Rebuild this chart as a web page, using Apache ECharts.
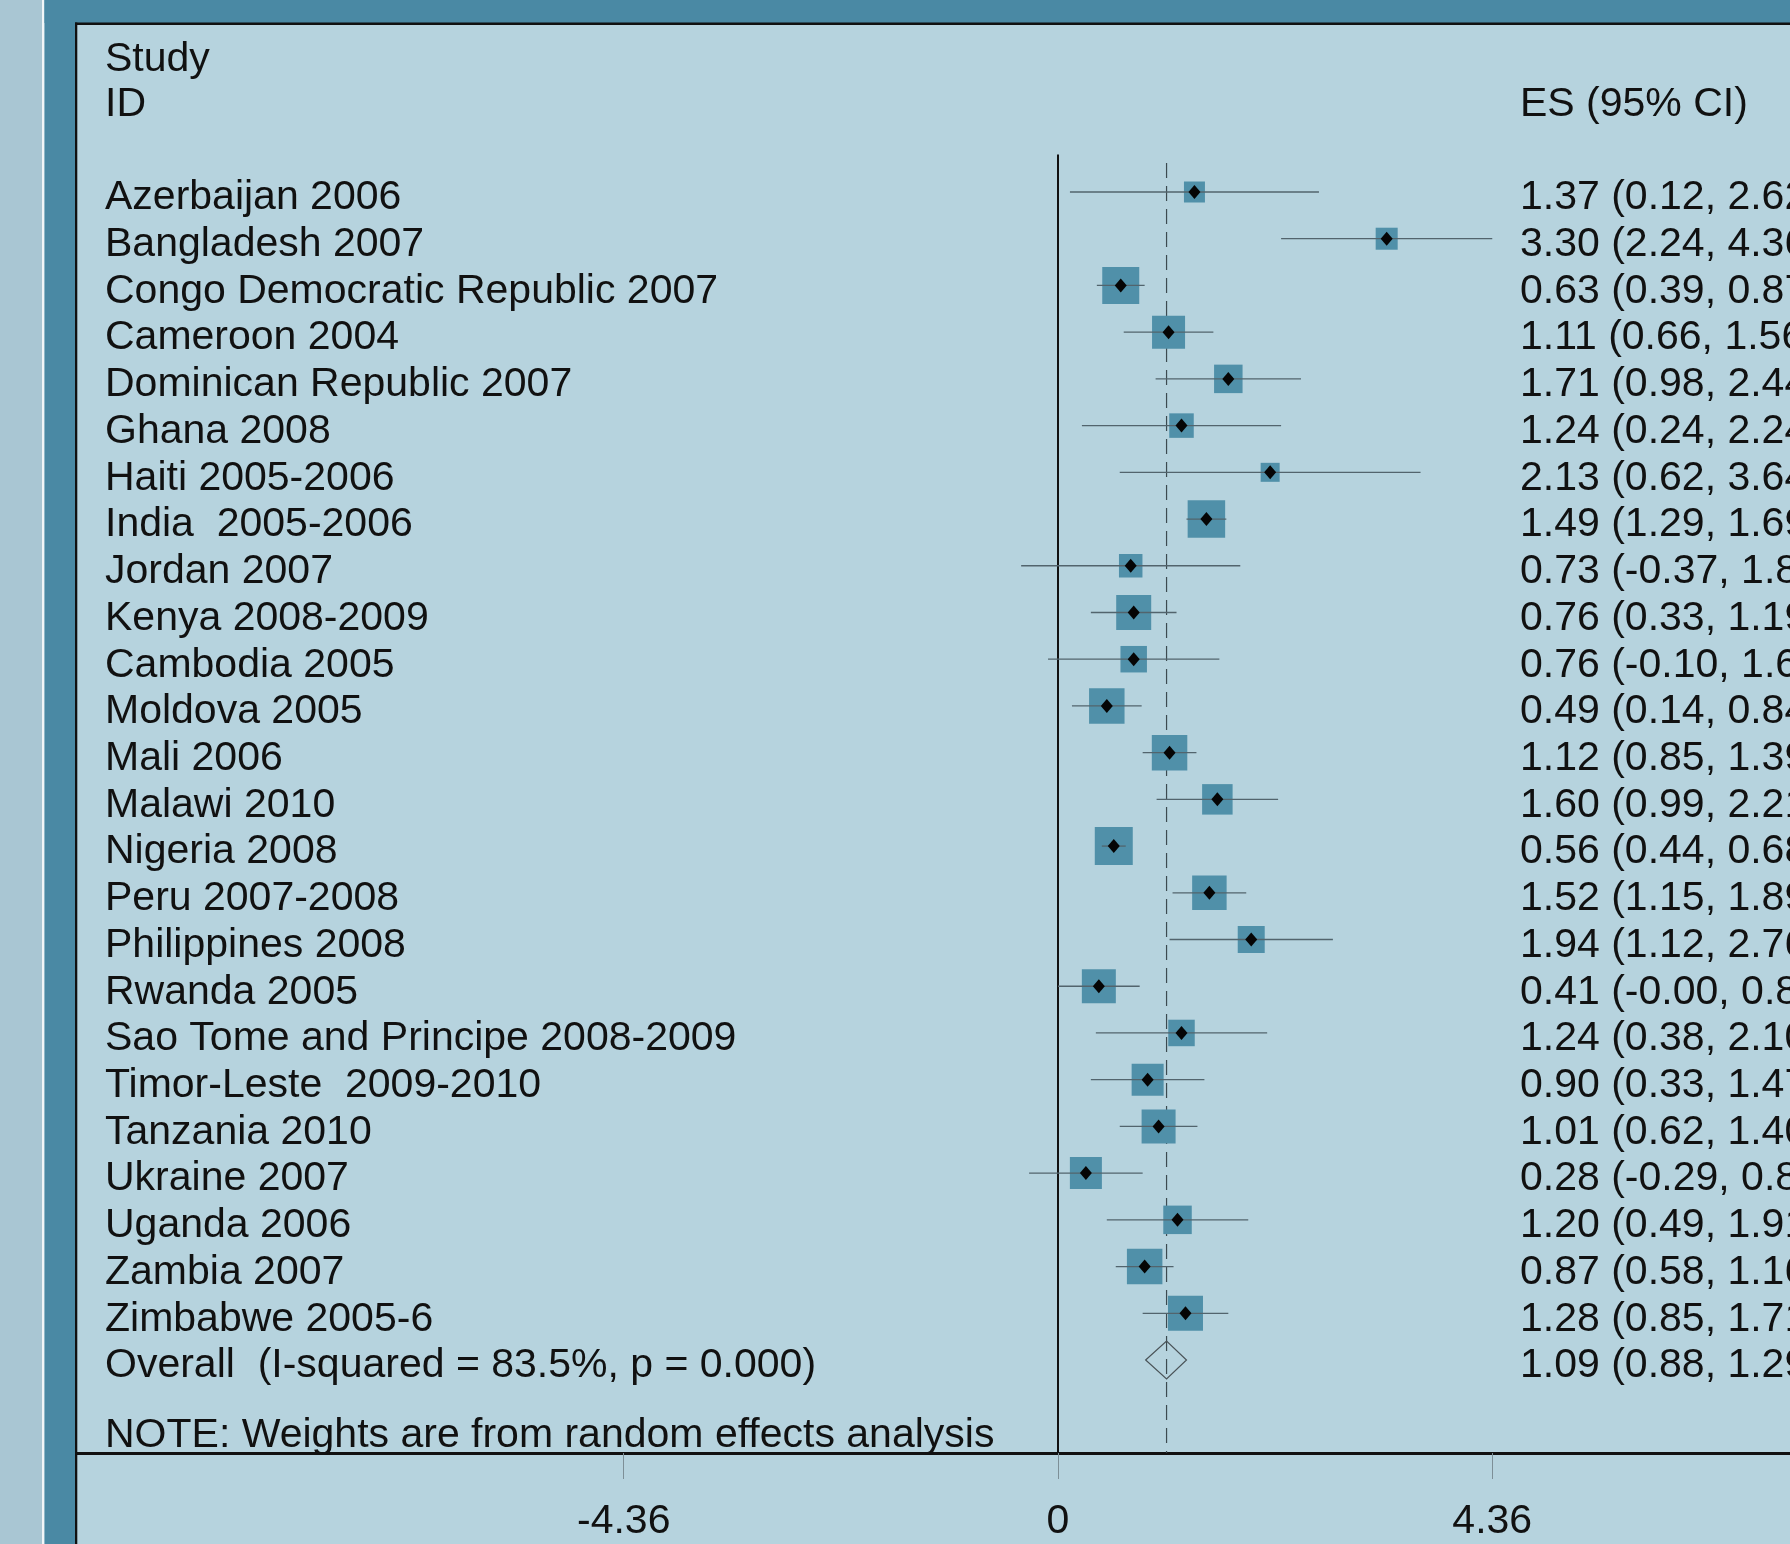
<!DOCTYPE html>
<html><head><meta charset="utf-8">
<script src="https://cdn.jsdelivr.net/npm/echarts@6/dist/echarts.min.js"></script>
<style>html,body{margin:0;padding:0;background:#a9c6d3;} #c{width:1790px;height:1544px;}</style>
</head><body><div id="c"></div>
<script>
// ---------- data ----------
const studies = ['Azerbaijan 2006','Bangladesh 2007','Congo Democratic Republic 2007','Cameroon 2004',
  'Dominican Republic 2007','Ghana 2008','Haiti 2005-2006','India  2005-2006','Jordan 2007',
  'Kenya 2008-2009','Cambodia 2005','Moldova 2005','Mali 2006','Malawi 2010','Nigeria 2008',
  'Peru 2007-2008','Philippines 2008','Rwanda 2005','Sao Tome and Principe 2008-2009',
  'Timor-Leste  2009-2010','Tanzania 2010','Ukraine 2007','Uganda 2006','Zambia 2007','Zimbabwe 2005-6'];
const es = [1.37,3.30,0.63,1.11,1.71,1.24,2.13,1.49,0.73,0.76,0.76,0.49,1.12,1.60,0.56,1.52,1.94,0.41,1.24,0.90,1.01,0.28,1.20,0.87,1.28];
const lo = [0.12,2.24,0.39,0.66,0.98,0.24,0.62,1.29,-0.37,0.33,-0.10,0.14,0.85,0.99,0.44,1.15,1.12,-0.0,0.38,0.33,0.62,-0.29,0.49,0.58,0.85];
const hi = [2.62,4.36,0.87,1.56,2.44,2.24,3.64,1.69,1.83,1.19,1.62,0.84,1.39,2.21,0.68,1.89,2.76,0.82,2.10,1.47,1.40,0.85,1.91,1.16,1.71];
const weights = [1.82,2.00,5.65,4.50,3.35,2.48,1.49,5.81,2.28,5.06,2.90,5.20,5.20,3.84,5.96,4.91,3.01,4.77,2.90,4.23,4.77,4.23,3.35,5.20,5.06];
const overallLabel = 'Overall  (I-squared = 83.5%, p = 0.000)';
const overallES = 1.09, overallLo = 0.88, overallHi = 1.29;
const headerStudy = ['Study','ID'];
const headerES = 'ES (95% CI)';
const noteText = 'NOTE: Weights are from random effects analysis';
const tickValues = [-4.36, 0, 4.36];
const tickLabels = ['-4.36','0','4.36'];

// ---------- layout / style ----------
const W = 1790, H = 1544;
const PLOT_LEFT = 77, PLOT_TOP = 25, AXIS_Y = 1453;
const ZERO_PX = 1058, UNIT_PX = 99.6;
const ROW0_PX = 192, ROW_PX = 46.72;
const xMin = (PLOT_LEFT - ZERO_PX) / UNIT_PX, xMax = (W - ZERO_PX) / UNIT_PX;
const yMin = (PLOT_TOP - ROW0_PX) / ROW_PX, yMax = (AXIS_Y - ROW0_PX) / ROW_PX;
const FONT = "'Liberation Sans', Arial, Helvetica, sans-serif";
const FS = 41;
const TXT = '#111';
const BOX = '#5090a9';
const CI = '#52646d';
const BOX_K = 15.56;
const LABEL_X = 105, ES_X = 1520, TEXT_DY = 6;
const OVERALL_ROW = studies.length;

function fmt(v) {
  const neg = v < 0 || Object.is(v, -0);
  return (neg ? '-' : '') + Math.abs(v).toFixed(2);
}
const esText = studies.map((s, i) => `${fmt(es[i])} (${fmt(lo[i])}, ${fmt(hi[i])})`);
const overallText = `${fmt(overallES)} (${fmt(overallLo)}, ${fmt(overallHi)})`;

// text rows: [row, leftText, rightText]
const textRows = [[-2.96, headerStudy[0], ''], [-2, headerStudy[1], headerES]];
studies.forEach((s, i) => textRows.push([i, s, esText[i]]));
textRows.push([OVERALL_ROW, overallLabel, overallText]);
textRows.push([26.5, noteText, '']);

const chart = echarts.init(document.getElementById('c'), null, {renderer: 'canvas'});
chart.setOption({
  animation: false,
  backgroundColor: '#b6d3de',
  grid: {left: PLOT_LEFT, right: 0, top: PLOT_TOP, bottom: H - AXIS_Y},
  xAxis: {
    type: 'value', min: xMin, max: xMax,
    axisLine: {show: true, onZero: false, lineStyle: {color: '#111', width: 3}},
    axisTick: {show: true, customValues: tickValues, length: 26, lineStyle: {color: '#7d8f97', width: 1}},
    axisLabel: {show: true, customValues: tickValues, margin: 48, fontSize: FS, color: TXT, fontFamily: FONT,
      formatter: v => { const k = tickValues.findIndex(t => Math.abs(t - v) < 1e-6); return k >= 0 ? tickLabels[k] : ''; }},
    splitLine: {show: false}
  },
  yAxis: {type: 'value', inverse: true, min: yMin, max: yMax, show: false},
  graphic: [
    {type: 'rect', z: -1, shape: {x: 0, y: 0, width: 42, height: H}, style: {fill: '#a9c6d3'}},
    {type: 'rect', z: -1, shape: {x: 42, y: 0, width: 2.5, height: H}, style: {fill: '#f2f6f8'}},
    {type: 'rect', z: -1, shape: {x: 44.5, y: 0, width: 31, height: H}, style: {fill: '#4a89a4'}},
    {type: 'rect', z: -1, shape: {x: 44.5, y: 0, width: W, height: 23}, style: {fill: '#4a89a4'}},
    {type: 'rect', z: 10, shape: {x: 75, y: 22.5, width: W, height: 2.5}, style: {fill: '#111'}},
    {type: 'rect', z: 10, shape: {x: 75, y: 22.5, width: 2.3, height: H}, style: {fill: '#111'}}
  ],
  series: [
    { // reference lines + overall diamond
      type: 'custom', clip: false, z: 1,
      data: [[overallES, overallLo, overallHi, OVERALL_ROW]],
      encode: {x: [0, 1, 2], y: 3},
      renderItem(params, api) {
        const e = api.value(0), l = api.value(1), h = api.value(2), r = api.value(3);
        const n0 = api.coord([0, -0.8]), n1 = api.coord([0, yMax]);
        const d0 = api.coord([e, -0.62]), d1 = api.coord([e, yMax]);
        const c = api.coord([e, r]), pl = api.coord([l, r]), ph = api.coord([h, r]);
        const hh = 19;
        return {type: 'group', children: [
          {type: 'line', shape: {x1: n0[0], y1: n0[1], x2: n1[0], y2: n1[1]}, style: {stroke: '#111', lineWidth: 2}},
          {type: 'line', shape: {x1: d0[0], y1: d0[1], x2: d1[0], y2: d1[1]}, style: {stroke: '#3c4a50', lineWidth: 1.2, lineDash: [15, 8]}},
          {type: 'polygon', shape: {points: [[pl[0], c[1]], [c[0], c[1] - hh], [ph[0], c[1]], [c[0], c[1] + hh]]},
            style: {fill: 'none', stroke: '#4a5358', lineWidth: 1.2}}
        ]};
      }
    },
    { // study estimates
      type: 'custom', clip: false, z: 3,
      data: studies.map((s, i) => [es[i], lo[i], hi[i], weights[i], i]),
      encode: {x: [0, 1, 2], y: 4},
      renderItem(params, api) {
        const r = api.value(4);
        const c = api.coord([api.value(0), r]);
        const l = api.coord([api.value(1), r]);
        const h = api.coord([api.value(2), r]);
        const side = BOX_K * Math.sqrt(api.value(3));
        return {type: 'group', children: [
          {type: 'rect', shape: {x: c[0] - side / 2, y: c[1] - side / 2, width: side, height: side}, style: {fill: BOX}},
          {type: 'line', shape: {x1: l[0], y1: c[1], x2: h[0], y2: c[1]}, style: {stroke: CI, lineWidth: 1.3}},
          {type: 'polygon', shape: {points: [[c[0] - 6, c[1]], [c[0], c[1] - 7], [c[0] + 6, c[1]], [c[0], c[1] + 7]]}, style: {fill: '#050505'}}
        ]};
      }
    },
    { // text columns
      type: 'custom', clip: false, z: 4,
      data: textRows.map(t => [0, t[0], t[1], t[2]]),
      encode: {x: 0, y: 1},
      renderItem(params, api) {
        const t = textRows[params.dataIndex];
        const p = api.coord([0, t[0]]);
        const y = p[1] + TEXT_DY;
        const kids = [{type: 'text', style: {x: LABEL_X, y: y, text: t[1], fill: TXT, font: `${FS}px ${FONT}`, verticalAlign: 'middle', align: 'left'}}];
        if (t[2]) kids.push({type: 'text', style: {x: ES_X, y: y, text: t[2], fill: TXT, font: `${FS}px ${FONT}`, verticalAlign: 'middle', align: 'left'}});
        return {type: 'group', children: kids};
      }
    }
  ]
});
</script>
</body></html>
